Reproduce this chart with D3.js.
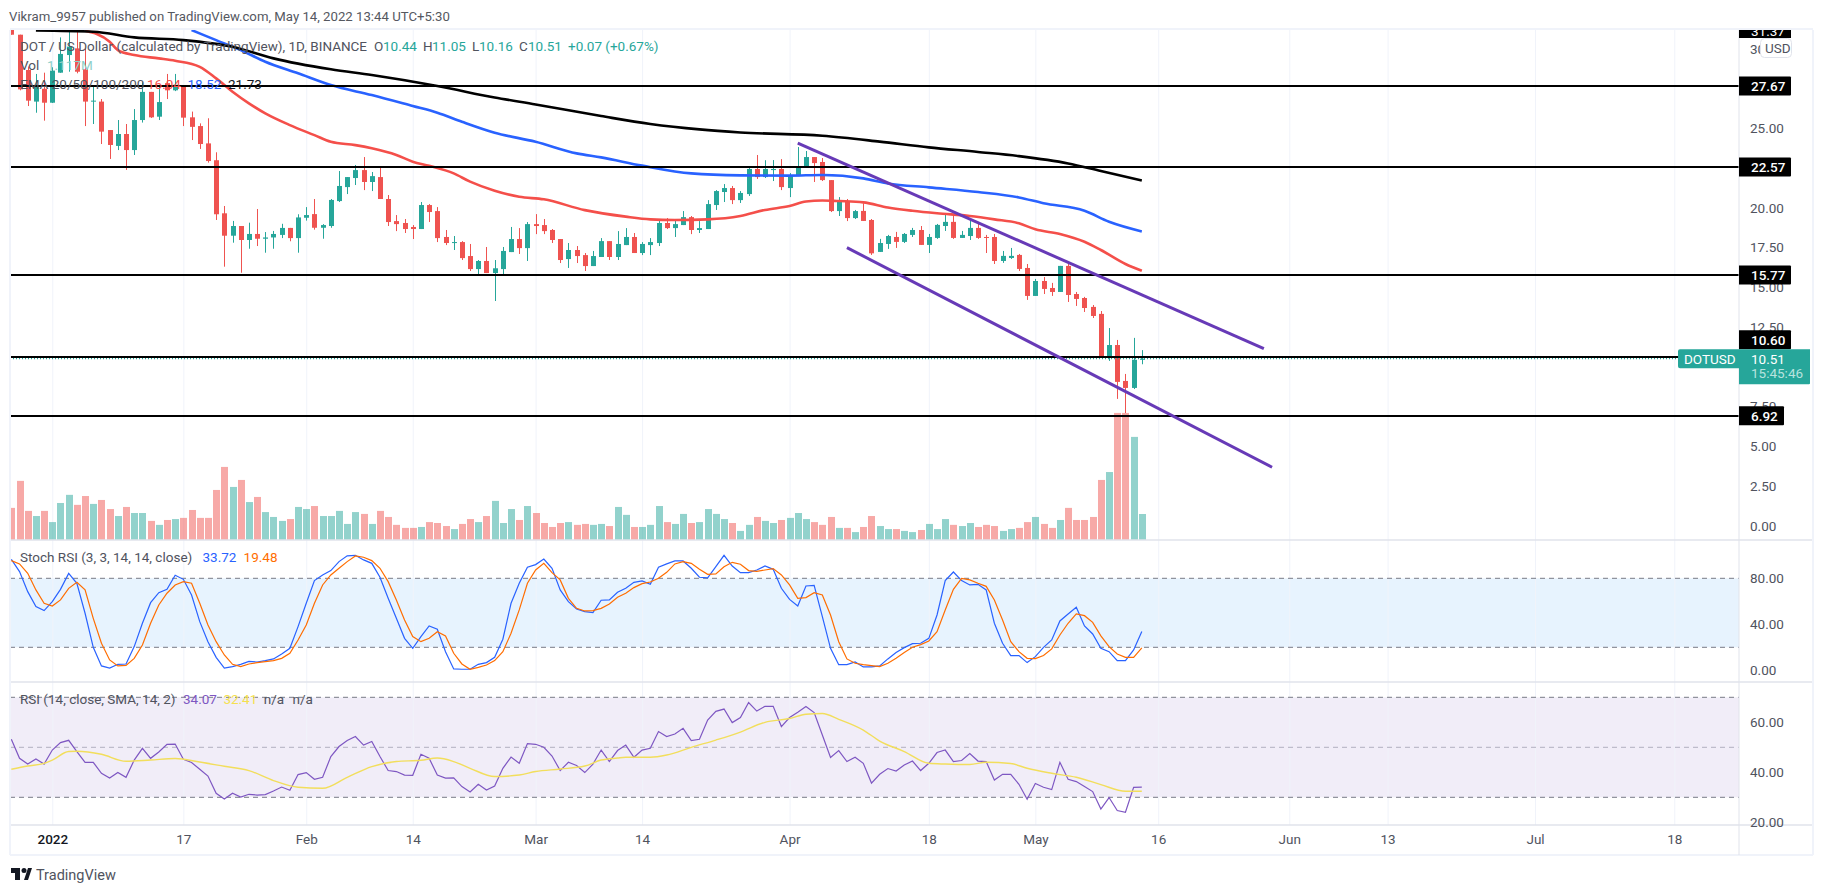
<!DOCTYPE html>
<html>
<head>
<meta charset="utf-8">
<title>DOT / US Dollar</title>
<script src="https://cdn.jsdelivr.net/npm/d3@7"></script>
<style>
    html, body { margin: 0; padding: 0; background: #fff; }
    svg { display: block; }
    text { font-family: Roboto, "Open Sans", sans-serif; font-size: 13px; fill: #50535e; }
    .domain { display: none; }
    .grid line { stroke: #f0f3fa; stroke-width: 1; }
</style>
</head>
<body>
<div id="chartcontainer"></div>
<script>
/* Daily candles start at 2021-12-27, one entry per day */
var firstDay = new Date(Date.UTC(2021, 11, 27));

var open = [
    33.0, 30.9, 28.68, 26.69, 27.5, 26.62, 28.51, 29.62, 30.04, 28.72,
    26.7, 26.69, 24.9, 23.9, 24.65, 23.64, 25.53, 27.3, 25.74, 27.85,
    27.4, 27.73, 25.7, 25.15, 24.06, 23.0, 19.66, 18.25, 18.86, 17.98,
    18.36, 18.06, 18.14, 18.3, 18.74, 18.1, 19.38, 19.61, 18.75, 18.86,
    20.43, 21.31, 21.88, 22.38, 21.63, 21.94, 20.56, 19.17, 19.05, 18.8,
    18.67, 20.18, 19.8, 18.17, 17.79, 17.85, 16.97, 16.15, 16.66, 15.9,
    16.15, 17.22, 18.04, 17.47, 18.98, 18.92, 18.61, 18.04, 16.78, 17.35,
    17.03, 16.34, 16.91, 17.91, 16.91, 17.66, 18.17, 17.16, 17.66, 17.79,
    19.05, 18.73, 18.92, 19.42, 18.61, 18.67, 20.18, 21.0, 21.25, 20.49,
    20.87, 22.45, 21.94, 22.38, 22.45, 21.25, 22.0, 22.57, 23.2, 22.89,
    21.75, 19.8, 20.37, 19.36, 19.81, 19.24, 17.23, 17.73, 18.17, 17.86,
    18.3, 18.61, 17.67, 18.11, 18.86, 19.12, 18.11, 18.23, 18.74, 18.17,
    18.17, 16.66, 16.85, 17.04, 16.22, 14.46, 15.4, 14.96, 14.71, 16.35,
    14.58, 14.33, 13.77, 13.33, 10.62, 11.37, 9.11, 8.67, 10.44
];
var high = [
    33.0, 30.9, 28.9, 28.43, 28.51, 28.85, 30.73, 31.5, 31.5, 30.04,
    27.67, 26.85, 24.9, 25.53, 25.28, 26.22, 27.9, 27.3, 27.67, 28.43,
    28.43, 27.73, 26.06, 25.32, 25.64, 23.5, 20.12, 19.18, 18.86, 19.07,
    19.93, 18.48, 18.55, 19.0, 18.74, 19.6, 20.05, 20.56, 18.98, 20.56,
    22.32, 21.94, 22.7, 23.2, 22.26, 22.63, 20.81, 19.55, 19.3, 18.92,
    20.37, 20.24, 20.05, 18.61, 18.23, 17.91, 17.73, 16.72, 17.54, 16.72,
    17.54, 18.8, 18.73, 19.11, 19.61, 19.3, 18.67, 18.04, 17.79, 17.6,
    17.16, 17.29, 18.1, 17.91, 18.54, 18.73, 18.42, 17.85, 18.1, 19.24,
    19.36, 19.3, 19.8, 19.49, 19.17, 20.49, 21.12, 21.5, 21.38, 21.06,
    22.51, 23.33, 23.0, 23.01, 23.07, 22.19, 23.83, 23.58, 23.2, 23.14,
    21.75, 20.68, 20.56, 19.87, 20.29, 19.3, 18.05, 18.3, 18.49, 18.42,
    18.74, 18.86, 18.36, 18.99, 19.56, 19.62, 18.55, 19.3, 19.12, 18.3,
    18.36, 17.29, 17.48, 17.1, 16.47, 15.53, 15.65, 15.28, 16.35, 16.47,
    14.71, 14.4, 13.89, 13.51, 12.44, 11.69, 9.55, 11.82, 11.05
];
var low = [
    30.9, 27.4, 26.41, 25.99, 25.49, 26.6, 28.5, 28.57, 28.47, 25.15,
    25.28, 24.02, 23.08, 23.64, 22.39, 23.33, 25.37, 25.66, 25.53, 26.85,
    27.35, 25.15, 24.27, 23.71, 22.85, 19.24, 16.3, 17.81, 15.92, 17.43,
    17.6, 17.18, 17.43, 18.1, 17.9, 17.18, 19.2, 18.63, 18.06, 18.75,
    20.37, 20.87, 21.44, 21.12, 21.06, 20.56, 18.86, 18.54, 18.42, 18.04,
    18.67, 19.11, 17.85, 17.66, 17.35, 16.72, 16.03, 15.84, 15.9, 14.14,
    15.84, 17.22, 17.1, 16.66, 18.35, 18.35, 17.79, 16.53, 16.22, 16.53,
    16.03, 16.34, 16.91, 16.72, 16.72, 17.66, 17.16, 17.03, 17.03, 17.6,
    18.67, 18.17, 18.92, 18.35, 18.42, 18.67, 19.87, 20.37, 20.24, 20.31,
    20.75, 21.82, 21.88, 21.69, 21.12, 20.68, 22.0, 22.57, 21.63, 21.69,
    19.74, 19.49, 19.17, 19.3, 19.18, 17.04, 17.23, 17.42, 17.48, 17.79,
    18.17, 17.67, 17.16, 18.05, 18.55, 18.05, 18.11, 17.98, 18.05, 17.16,
    16.47, 16.54, 16.79, 16.03, 14.21, 14.46, 14.58, 14.46, 14.71, 14.08,
    13.83, 13.45, 13.07, 10.6, 10.37, 7.98, 7.09, 8.6, 10.16
];
var close = [
    30.9, 27.46, 26.75, 27.63, 26.62, 28.64, 29.69, 30.15, 28.57, 26.69,
    26.75, 24.8, 23.96, 24.65, 23.64, 25.53, 27.3, 25.7, 26.66, 27.4,
    27.75, 25.68, 25.1, 24.02, 22.95, 19.6, 18.25, 18.86, 17.98, 18.36,
    18.06, 18.14, 18.36, 18.74, 18.1, 19.4, 19.55, 18.75, 18.92, 20.5,
    21.38, 21.94, 22.38, 21.63, 22.0, 20.56, 19.11, 18.98, 18.67, 18.67,
    20.18, 19.74, 18.1, 17.79, 17.85, 16.84, 16.15, 16.66, 15.9, 16.2,
    17.29, 18.04, 17.47, 18.98, 18.86, 18.54, 17.98, 16.72, 17.35, 16.97,
    16.34, 16.97, 17.91, 16.91, 17.73, 18.17, 17.16, 17.73, 17.85, 19.05,
    18.73, 18.98, 19.42, 18.61, 18.73, 20.24, 21.06, 21.25, 20.49, 20.94,
    22.45, 21.94, 22.45, 22.45, 21.31, 22.0, 22.63, 23.2, 22.82, 21.75,
    19.8, 20.43, 19.36, 19.8, 19.18, 17.14, 17.79, 18.23, 17.86, 18.36,
    18.61, 17.67, 18.17, 18.93, 19.12, 18.11, 18.3, 18.74, 18.11, 18.11,
    16.66, 16.98, 16.98, 16.16, 14.46, 15.4, 14.9, 14.71, 16.35, 14.52,
    14.27, 13.7, 13.2, 10.62, 11.37, 9.05, 8.67, 10.44, 10.51
];
var volume = [
    1.38, 2.54, 1.25, 1.03, 1.25, 0.77, 1.59, 1.94, 1.51, 1.89,
    1.55, 1.72, 1.33, 1.03, 1.42, 1.16, 1.16, 0.82, 0.65, 0.86,
    0.90, 0.95, 1.29, 0.95, 0.95, 2.15, 3.14, 2.28, 2.58, 1.63,
    1.85, 1.20, 0.99, 0.82, 0.90, 1.42, 1.33, 1.46, 1.03, 1.03,
    1.25, 0.69, 1.20, 1.12, 0.69, 1.25, 0.99, 0.65, 0.52, 0.52,
    0.56, 0.77, 0.73, 0.60, 0.47, 0.69, 0.90, 0.77, 1.03, 1.68,
    0.73, 1.33, 0.86, 1.46, 1.16, 0.73, 0.56, 0.73, 0.77, 0.65,
    0.69, 0.65, 0.69, 0.60, 1.42, 1.08, 0.56, 0.56, 0.65, 1.46,
    0.77, 0.69, 1.12, 0.73, 0.77, 1.33, 1.12, 0.90, 0.73, 0.39,
    0.65, 0.99, 0.82, 0.73, 0.86, 0.95, 1.16, 0.90, 0.77, 0.65,
    0.99, 0.52, 0.52, 0.34, 0.56, 1.03, 0.60, 0.47, 0.47, 0.39,
    0.34, 0.43, 0.69, 0.47, 0.90, 0.65, 0.60, 0.73, 0.56, 0.65,
    0.60, 0.39, 0.47, 0.52, 0.77, 0.99, 0.69, 0.52, 0.86, 1.38,
    0.86, 0.86, 0.99, 2.58, 2.92, 5.46, 5.46, 4.43, 1.117
];

/* Moving averages: [days after 2022-01-01, value] */
var ema50 = [[4, 31.15], [7, 30.46], [8, 29.93], [10, 29.62], [13, 29.41], [15, 29.26], [18, 28.88], [20, 28.15],
    [22, 27.31], [24, 26.58], [26, 25.95], [29, 25.21], [32, 24.58], [34, 24.16], [37, 23.95], [39, 23.75],
    [42, 23.33], [44, 22.91], [46, 22.65], [49, 22.17], [51, 21.65], [54, 21.08], [57, 20.7], [60, 20.54],
    [65, 19.86], [70, 19.45], [73, 19.28], [76, 19.24], [80, 19.28], [84, 19.49], [87, 19.87], [90, 20.12],
    [92, 20.4], [94, 20.47], [96, 20.43], [99, 20.35], [102, 20.03], [105, 19.82], [108, 19.66], [112, 19.49],
    [115, 19.28], [118, 19.03], [120, 18.65], [123, 18.36], [126, 17.87], [128, 17.35], [131, 16.47], [133, 16.04]];
var ema100 = [[17, 31.19], [20, 30.56], [23, 29.93], [26, 29.2], [30, 28.47], [34, 27.73], [39, 27.1], [44, 26.41],
    [47, 25.99], [50, 25.42], [54, 24.73], [59, 24.16], [64, 23.43], [67, 23.18], [72, 22.66], [78, 22.17],
    [84, 22.05], [90, 22.03], [94, 22.07], [99, 21.86], [102, 21.54], [107, 21.29], [113, 21.0], [118, 20.66],
    [121, 20.29], [126, 19.82], [129, 19.13], [133, 18.52]];
var ema200 = [[-2, 31.17], [5, 31.09], [10, 30.73], [16, 30.56], [22, 30.14], [27, 29.41], [34, 28.72], [39, 28.36],
    [47, 27.67], [54, 26.95], [59, 26.51], [67, 25.78], [73, 25.28], [79, 24.94], [84, 24.75], [94, 24.54],
    [101, 24.17], [107, 23.81], [113, 23.52], [118, 23.26], [124, 22.8], [128, 22.32], [133, 21.73]];

/* Drawn channel, [days after 2022-01-01, price] */
var channelUpper = [[91, 24.07], [147.9, 11.14]];
var channelLower = [[97, 17.5], [148.9, 3.68]];

var levels = [27.67, 22.57, 15.77, 10.60, 6.92];
var lastPrice = 10.51;

var stochK = [
    96.5, 85.8, 68.4, 55.4, 51.9, 59.7, 70.4, 84.3, 75.7, 49.6,
    20, 3.8, 2, 5.2, 5.5, 20.6, 40.9, 58.8, 67.5, 70.4,
    82.6, 79.1, 65.5, 42.3, 24.9, 11.3, 2, 3.2, 5.2, 7.8,
    7.2, 8.4, 9.9, 14.2, 19.1, 38, 58.3, 78, 82.9, 86.7,
    94.5, 99.5, 100, 96, 93, 80.9, 62.6, 45.2, 27.8, 19.1,
    29.3, 38.6, 35.7, 16.2, 1.2, 0.9, 0.9, 5.2, 6.7, 11.3,
    27, 58.3, 75.7, 89.6, 91.9, 96.8, 88.7, 69.9, 59.7, 53.3,
    51, 50.1, 60.9, 61.2, 67.8, 71.3, 76.5, 77.7, 74.8, 89.6,
    92.5, 95.1, 95.1, 88.7, 80.9, 80.3, 90.1, 100, 90.7, 84.9,
    84.9, 87.2, 90.7, 87.8, 71.3, 61.7, 55.9, 73.3, 73.9, 46.7,
    19.1, 4.9, 4.9, 7.2, 2.9, 2.9, 3.8, 9.9, 15.4, 19.7,
    23.2, 23.5, 27.8, 48.1, 78, 85.5, 78, 74.2, 74.8, 69.9,
    40.9, 23.5, 12.8, 12.8, 6.7, 11.9, 20, 26.4, 42.9, 49,
    54.8, 38.6, 31.6, 19.1, 16.2, 8.4, 8.4, 17.7, 33.72
];
var stochD = [
    95.4, 92.5, 84.3, 69.9, 58.3, 55.9, 61.2, 71.3, 76.5, 69.9,
    45.2, 23.5, 9, 3.8, 4.3, 10.4, 22, 40.9, 56.8, 67,
    74.2, 77.1, 75.7, 58.3, 39.4, 24.9, 13.3, 5.2, 3.2, 5.5,
    6.7, 7.5, 8.4, 10.4, 14.8, 26.4, 39.4, 58.3, 74.2, 82.9,
    88.7, 94.5, 99.4, 98.3, 95.4, 88.7, 77.1, 61.2, 43.8, 29.3,
    24.9, 27.8, 33.6, 29.9, 14.8, 5.5, 0.9, 2.6, 4.6, 8.4,
    16.2, 32.2, 52.5, 75.7, 87.2, 93, 84.9, 78.6, 62.6, 53.9,
    51.6, 51.9, 53.9, 57.7, 63.5, 67, 71.9, 75.4, 76.8, 80,
    85.2, 92.5, 94.5, 93, 87.8, 83.5, 83.8, 90.1, 93.9, 92.2,
    86.7, 86.1, 87.2, 88.4, 82.9, 74.2, 62.6, 63.2, 67.5, 65.5,
    48.1, 24.9, 9.9, 6.1, 4.9, 4.1, 3.2, 6.1, 10.4, 15.4,
    20, 22.3, 25.5, 33.6, 52.5, 70.4, 80, 78.6, 75.7, 73,
    61.2, 43.8, 24.9, 16.2, 10.4, 10.1, 12.8, 18.6, 30.7, 40.9,
    49, 47.5, 41.7, 29.9, 20.6, 14.2, 11.3, 11.3, 19.48
];
var rsi = [
    53.2, 45.6, 43.3, 45.3, 43.3, 48.9, 51.9, 52.8, 48.3, 44,
    44, 39.6, 37.7, 39.9, 38, 44.9, 49.6, 45.6, 48.1, 51.2,
    51.3, 45.2, 43.9, 41.2, 38.5, 31.6, 29.3, 31.6, 30.1, 31.2,
    30.9, 31.1, 32.5, 34.1, 32.8, 39.1, 39.9, 37.2, 38, 46.3,
    50.3, 52.7, 54.3, 50.9, 52.3, 46.3, 40.7, 40.3, 38.9, 38.8,
    47.2, 45.6, 38.9, 37.7, 37.8, 34.3, 32.1, 35.2, 32.9, 34.5,
    41.6, 46.1, 43.6, 51.5, 51.2, 50, 46.5, 40.7, 44, 42.7,
    39.9, 43.3, 48.9, 44.3, 48.7, 50.9, 46, 48.9, 49.6, 56.3,
    54.3, 55.3, 57.6, 52.7, 53.2, 60.9, 64.4, 65.3, 59.9, 61.9,
    67.9, 64.5, 66.4, 66.4, 58.3, 61.9, 64, 66.3, 63.9, 54.9,
    45.9, 48.7, 44.3, 46, 43.6, 35.7, 39.2, 41.5, 40.5, 42.9,
    44.5, 40.7, 43.6, 47.9, 48.9, 44.3, 44.7, 47.5, 44.5, 44.3,
    36.9, 39.2, 39.2, 35.2, 29.2, 35.5, 34, 33.1, 44, 37.2,
    36.3, 34.3, 32.3, 25.3, 29.9, 24.7, 24, 34, 34.07
];
var rsiMa = [[-5, 41.2], [-3, 42.5], [-1, 43.6], [0, 44.9], [2, 48.3], [3, 48.4], [6, 47.2], [9, 44.4], [12, 44.9],
    [15, 45.5], [18, 44.1], [21, 42.4], [24, 40.7], [27, 36.7], [30, 34], [33, 33.6], [36, 38], [39, 42.3],
    [42, 44.3], [45, 44.8], [47, 45.7], [49, 44.3], [51, 41.6], [54, 38.3], [57, 38.9], [59, 40.3], [62, 41.3],
    [65, 42.5], [67, 44.9], [69, 45.7], [70, 46], [73, 46], [75, 46.9], [78, 50], [81, 52.9], [84, 56.1],
    [87, 60], [90, 61.5], [92, 63.2], [94, 63.5], [96, 61.2], [99, 56.9], [101, 52.5], [104, 48.3], [107, 43.6],
    [109, 43.3], [112, 43.1], [114, 44], [117, 43.5], [119, 41.6], [122, 39.6], [125, 38], [128, 35.1],
    [131, 32.4], [133, 32.41]];

var priceGridTicks = [30, 25, 20, 17.5, 15, 12.5, 10, 7.5, 5, 2.5, 0];
// 10.00 sits behind the last price tag, so it has no label
var priceLabelTicks = [30, 25, 20, 17.5, 15, 12.5, 7.5, 5, 2.5, 0];
var stochTicks = [80, 40, 0];
var rsiTicks = [60, 40, 20];
var dateTicks = ["2022-01-01", "2022-01-17", "2022-02-01", "2022-02-14", "2022-03-01", "2022-03-14", "2022-04-01",
    "2022-04-18", "2022-05-01", "2022-05-16", "2022-06-01", "2022-06-13", "2022-07-01", "2022-07-18"];
var dateLabels = ["2022", "17", "Feb", "14", "Mar", "14", "Apr", "18", "May", "16", "Jun", "13", "Jul", "18"];

function LciaChart() {

    var width = 1824, height = 894,
        left = 10, right = 1739, outer = 1813,
        top = 30, mainBottom = 540, stochBottom = 682, rsiBottom = 825, axisBottom = 855,
        upColor = "#26a69a", downColor = "#ef5350";

    var jan1 = new Date(Date.UTC(2022, 0, 1));

    var x = d3.scaleUtc()
        .domain([jan1, new Date(Date.UTC(2022, 6, 18))])
        .range([52.3, 1674.3]);
    var y = d3.scaleLinear().domain([0, 30]).range([525.7, 49]);
    var yVol = d3.scaleLinear().domain([0, 5.5]).range([540, 412]);
    var yStoch = d3.scaleLinear().domain([0, 80]).range([670.3, 578.3]);
    var yRsi = d3.scaleLinear().domain([20, 70]).range([822.3, 697.3]);

    var candleDates = open.map(function (d, i) { return d3.utcDay.offset(firstDay, i); });
    function dayDate(n) { return d3.utcDay.offset(jan1, Math.floor(n)).getTime() + (n - Math.floor(n)) * 864e5; }
    function candleColor(i) { return close[i] >= open[i] ? upColor : downColor; }

    var svg = d3.select("#chartcontainer").append("svg")
        .attr("width", width).attr("height", height);

    var defs = svg.append("defs");
    function addClip(id, y0, y1) {
        defs.append("clipPath").attr("id", id).append("rect")
            .attr("x", left).attr("y", y0).attr("width", right - left).attr("height", y1 - y0);
    }
    addClip("clipMain", top, mainBottom);
    addClip("clipStoch", mainBottom, stochBottom);
    addClip("clipRsi", stochBottom, rsiBottom);

    svg.append("text").attr("x", 9).attr("y", 21)
        .style("font-size", "13.2px").style("fill", "#55585f")
        .text("Vikram_9957 published on TradingView.com, May 14, 2022 13:44 UTC+5:30");

    // pane bands
    svg.append("rect").attr("x", left).attr("y", yStoch(80)).attr("width", right - left)
        .attr("height", yStoch(20) - yStoch(80)).attr("fill", "#2196f3").attr("fill-opacity", 0.11);
    svg.append("rect").attr("x", left).attr("y", yRsi(70)).attr("width", right - left)
        .attr("height", yRsi(30) - yRsi(70)).attr("fill", "#7e57c2").attr("fill-opacity", 0.11);

    // vertical grid
    var tickDates = dateTicks.map(function (d) { return new Date(d + "T00:00:00Z"); });
    svg.append("g").attr("class", "grid")
        .attr("transform", "translate(0," + rsiBottom + ")")
        .call(d3.axisBottom(x).tickValues(tickDates).tickSize(top - rsiBottom).tickFormat(""));

    // horizontal grids
    function hGrid(scale, ticks, clip) {
        svg.append("g").attr("class", "grid")
            .attr("clip-path", "url(#" + clip + ")")
            .attr("transform", "translate(" + right + ",0)")
            .call(d3.axisLeft(scale).tickValues(ticks).tickSize(right - left).tickFormat(""));
    }
    hGrid(y, priceGridTicks, "clipMain");
    hGrid(yStoch, stochTicks, "clipStoch");
    hGrid(yRsi, rsiTicks, "clipRsi");

    var main = svg.append("g").attr("clip-path", "url(#clipMain)");

    // volume
    main.selectAll("rect.vol").data(volume).enter().append("rect")
        .attr("class", "vol")
        .attr("x", function (d, i) { return Math.round(x(candleDates[i])) - 3; })
        .attr("y", function (d) { return yVol(d); })
        .attr("width", 7)
        .attr("height", function (d) { return yVol(0) - yVol(d); })
        .attr("fill", function (d, i) { return candleColor(i); })
        .attr("fill-opacity", 0.5);

    // candles
    main.selectAll("line.wick").data(open).enter().append("line")
        .attr("class", "wick")
        .attr("x1", function (d, i) { return Math.round(x(candleDates[i])) + 0.5; })
        .attr("x2", function (d, i) { return Math.round(x(candleDates[i])) + 0.5; })
        .attr("y1", function (d, i) { return y(high[i]); })
        .attr("y2", function (d, i) { return y(low[i]); })
        .attr("stroke-width", 1)
        .attr("stroke", function (d, i) { return candleColor(i); });
    main.selectAll("rect.body").data(open).enter().append("rect")
        .attr("class", "body")
        .attr("x", function (d, i) { return Math.round(x(candleDates[i])) - 2; })
        .attr("y", function (d, i) { return y(Math.max(open[i], close[i])); })
        .attr("width", 5)
        .attr("height", function (d, i) { return Math.max(1, Math.abs(y(open[i]) - y(close[i]))); })
        .attr("fill", function (d, i) { return candleColor(i); });

    // moving averages
    var knotLine = d3.line()
        .x(function (d) { return x(dayDate(d[0])); })
        .y(function (d) { return y(d[1]); })
        .curve(d3.curveMonotoneX);
    function addEma(data, color) {
        main.append("path").datum(data).attr("d", knotLine)
            .attr("fill", "none").attr("stroke", color).attr("stroke-width", 2.6);
    }
    addEma(ema50, "#f44f4a");
    addEma(ema100, "#2962ff");
    addEma(ema200, "#000");

    // last price dotted line, then the horizontal levels
    main.append("line").attr("x1", left).attr("x2", right)
        .attr("y1", y(lastPrice)).attr("y2", y(lastPrice))
        .attr("stroke", upColor).attr("stroke-width", 1.2).attr("stroke-dasharray", "1 2");
    main.selectAll("line.level").data(levels).enter().append("line")
        .attr("class", "level")
        .attr("x1", left).attr("x2", right)
        .attr("y1", function (d) { return Math.round(y(d)); })
        .attr("y2", function (d) { return Math.round(y(d)); })
        .attr("stroke", "#000").attr("stroke-width", 2);

    // channel
    var straight = d3.line()
        .x(function (d) { return x(dayDate(d[0])); })
        .y(function (d) { return y(d[1]); });
    [channelUpper, channelLower].forEach(function (c) {
        main.append("path").datum(c).attr("d", straight)
            .attr("fill", "none").attr("stroke", "#673ab7").attr("stroke-width", 3);
    });

    // legend rows of the main pane
    function label(parent, px, py, txt, color, size) {
        return parent.append("text").attr("x", px).attr("y", py)
            .style("fill", color || "#50535e").style("font-size", (size || 13.5) + "px").text(txt);
    }
    label(svg, 20, 51, "DOT / US Dollar (calculated by TradingView), 1D, BINANCE");
    label(svg, 374, 51, "O");
    label(svg, 383, 51, "10.44", upColor);
    label(svg, 423, 51, "H");
    label(svg, 432, 51, "11.05", upColor);
    label(svg, 472, 51, "L");
    label(svg, 479, 51, "10.16", upColor);
    label(svg, 519, 51, "C");
    label(svg, 528, 51, "10.51", upColor);
    label(svg, 568, 51, "+0.07 (+0.67%)", upColor);
    label(svg, 20, 70, "Vol");
    label(svg, 47, 70, "1.117M", "#8fd0c9");
    label(svg, 20, 89, "EMA 20/50/100/200");
    label(svg, 147, 89, "16.04", "#f44f4a");
    label(svg, 187.5, 89, "18.52", "#2962ff");
    label(svg, 228, 89, "21.73", "#131722");

    // stoch pane
    function dashed(scale, v, color) {
        svg.append("line").attr("x1", left).attr("x2", right)
            .attr("y1", scale(v)).attr("y2", scale(v))
            .attr("stroke", color || "#787b86").attr("stroke-width", 1).attr("stroke-dasharray", "5 4");
    }
    dashed(yStoch, 80);
    dashed(yStoch, 20);

    function indicatorLine(scale, values, color, clip) {
        var line = d3.line()
            .x(function (d, i) { return x(candleDates[i]); })
            .y(function (d) { return scale(d); });
        svg.append("path").datum(values).attr("d", line)
            .attr("clip-path", "url(#" + clip + ")")
            .attr("fill", "none").attr("stroke", color).attr("stroke-width", 1.2);
    }
    indicatorLine(yStoch, stochK, "#2962ff", "clipStoch");
    indicatorLine(yStoch, stochD, "#ff6d00", "clipStoch");
    label(svg, 20, 562, "Stoch RSI (3, 3, 14, 14, close)");
    label(svg, 202.5, 562, "33.72", "#2962ff");
    label(svg, 243.6, 562, "19.48", "#ff6d00");

    // rsi pane
    dashed(yRsi, 70);
    dashed(yRsi, 50, "#b2b0c0");
    dashed(yRsi, 30);
    indicatorLine(yRsi, rsi, "#7e57c2", "clipRsi");
    svg.append("path").datum(rsiMa)
        .attr("d", d3.line()
            .x(function (d) { return x(dayDate(d[0])); })
            .y(function (d) { return yRsi(d[1]); })
            .curve(d3.curveMonotoneX))
        .attr("clip-path", "url(#clipRsi)")
        .attr("fill", "none").attr("stroke", "#f2de5c").attr("stroke-width", 1.4);
    label(svg, 20, 704, "RSI (14, close, SMA, 14, 2)");
    label(svg, 183, 704, "34.07", "#7e57c2");
    label(svg, 223.4, 704, "32.41", "#f5e04f");
    label(svg, 263.7, 704, "n/a");
    label(svg, 292.6, 704, "n/a");

    // frame and separators
    function rule(x1, y1, x2, y2, color, w) {
        svg.append("line").attr("x1", x1).attr("y1", y1).attr("x2", x2).attr("y2", y2)
            .attr("stroke", color).attr("stroke-width", w);
    }
    rule(left, top - 1, outer, top - 1, "#f0f3fa", 2);
    rule(left, mainBottom, outer, mainBottom, "#e0e3eb", 1.5);
    rule(left, stochBottom, outer, stochBottom, "#e0e3eb", 1.5);
    rule(left, rsiBottom, outer, rsiBottom, "#e0e3eb", 1.5);
    rule(left, axisBottom, outer, axisBottom, "#f0f3fa", 2);
    rule(left, top, left, axisBottom, "#f0f3fa", 2);
    rule(outer, top, outer, axisBottom, "#f0f3fa", 2);
    rule(right, top, right, axisBottom, "#e0e3eb", 1);

    // right axes
    function rightAxis(scale, ticks) {
        var g = svg.append("g").attr("transform", "translate(" + right + ",0)")
            .call(d3.axisRight(scale).tickValues(ticks).tickSize(0).tickPadding(11).tickFormat(d3.format(".2f")));
        g.selectAll("text").style("font-size", "13.5px").style("font-family", "Roboto");
        return g;
    }
    rightAxis(y, priceLabelTicks);
    rightAxis(yStoch, stochTicks);
    rightAxis(yRsi, rsiTicks);

    // date axis
    var dateAxis = svg.append("g").attr("transform", "translate(0," + rsiBottom + ")")
        .call(d3.axisBottom(x).tickValues(tickDates).tickSize(0).tickPadding(9)
            .tickFormat(function (d, i) { return dateLabels[i]; }));
    dateAxis.selectAll("text").style("font-size", "13.5px")
        .style("fill", function (d, i) { return i === 0 ? "#131722" : "#50535e"; })
        .style("font-weight", function (d, i) { return i === 0 ? "500" : "400"; });

    // last price position, a badge that would hit its tag stacks above it
    var py = y(lastPrice);

    function badge(v, w) {
        var cy = Math.abs(y(v) - py) < 19 ? py - 19 : y(v),
            g = svg.append("g");
        g.append("path")
            .attr("d", "M" + right + "," + (cy - 9.5) + "h" + (w - 1) + "q1,0 1,1v17q0,1 -1,1h-" + (w - 1) + "z")
            .attr("fill", "#000");
        g.append("text").attr("x", right + 12).attr("y", cy + 5)
            .style("fill", "#fff").style("font-size", "13.5px").style("font-weight", "500")
            .text(d3.format(".2f")(v));
    }
    svg.append("clipPath").attr("id", "clipTopBadge").append("rect")
        .attr("x", right).attr("y", top).attr("width", 60).attr("height", 8);
    svg.append("rect").attr("x", right).attr("y", 22).attr("width", 52).attr("height", 19)
        .attr("fill", "#000").attr("clip-path", "url(#clipTopBadge)");
    svg.append("text").attr("x", right + 12).attr("y", 36)
        .attr("clip-path", "url(#clipTopBadge)")
        .style("fill", "#fff").style("font-size", "13.5px").text("31.37");

    levels.forEach(function (v) {
        badge(v, v < 10 ? 45 : 52);
    });

    // last price tag
    svg.append("path")
        .attr("d", "M1680," + (py - 9.5) + "H1810v34q0,1 -1,1H" + right + "V" + (py + 9.5) + "H1680q-2,0 -2,-2v-15q0,-2 2,-2z")
        .attr("fill", upColor);
    label(svg, 1684, py + 5, "DOTUSD", "#fff", 13.5);
    label(svg, right + 12, py + 5, "10.51", "#fff", 13.5);
    label(svg, right + 12, py + 19, "15:45:46", "#b8e3de", 13.5);

    // currency button
    svg.append("rect").attr("x", 1760.5).attr("y", 38.5).attr("width", 31).attr("height", 19).attr("rx", 4)
        .attr("fill", "#fff").attr("stroke", "#e0e3eb");
    label(svg, 1765, 53, "USD", "#50535e", 13.5);

    // logo
    var logo = svg.append("g").attr("transform", "translate(11,868)");
    logo.append("path").attr("fill", "#131722")
        .attr("d", "M0,0H9V12H4V5H0Z M21,0H17L13,12H17Z");
    logo.append("circle").attr("cx", 13).attr("cy", 2.5).attr("r", 2.5).attr("fill", "#131722");
    label(svg, 36, 880, "TradingView", "#50535e", 14.5);
}

LciaChart();
</script>
</body>
</html>
